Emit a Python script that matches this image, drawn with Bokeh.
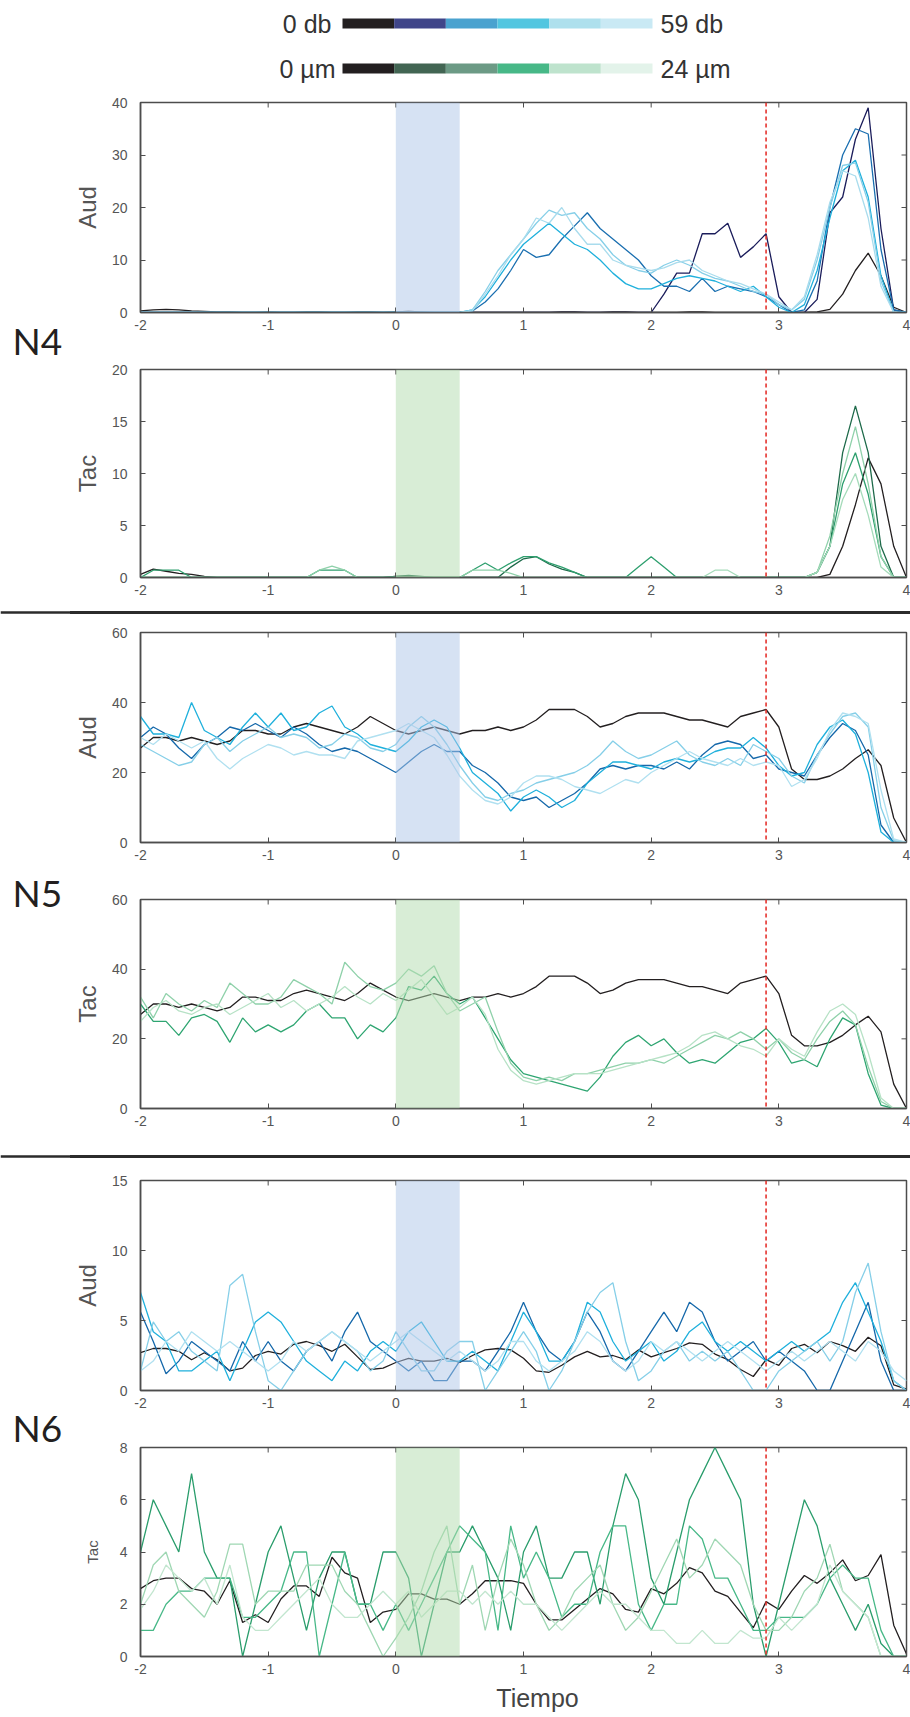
import numpy as np
from bokeh.plotting import figure
from bokeh.layouts import column, row
from bokeh.models import Range1d, FixedTicker, Span, BoxAnnotation, Div
from bokeh.embed import file_html
from bokeh.resources import INLINE
from bokeh.core.properties import value

TIME = np.round(np.linspace(-2.0, 4.0, 61), 2)
X_TICKS = [-2, -1, 0, 1, 2, 3, 4]
STIM_START, STIM_END = 0.0, 0.5
EVENT_T = 2.9

LEG_DB = ["0 db", "59 db"]
LEG_UM = ["0 \u00b5m", "24 \u00b5m"]
GROUPS = ["N4", "N5", "N6"]
X_LABEL = "Tiempo"

# ---- N4 auditory (0-40)
n4_aud_black = [0.3, 0.5, 0.6, 0.5, 0.3, 0.2, 0.1, 0.1, 0.0, 0.0,
                0.1, 0.0, 0.0, 0.1, 0.1, 0.0, 0.0, 0.1, 0.1, 0.0,
                0.1, 0.2, 0.1, 0.0, 0.0, 0.0, 0.0, 0.0, 0.0, 0.0,
                0.0, 0.0, 0.0, 0.1, 0.1, 0.0, 0.0, 0.1, 0.1, 0.0,
                0.0, 0.0, 0.0, 0.1, 0.1, 0.0, 0.0, 0.0, 0.0, 0.0,
                0.0, 0.0, 0.0, 0.1, 0.6, 3.5, 8.0, 11.3, 7.0, 1.0,
                0.0]
n4_aud_navy = [0.0] * 40 + [
                0.0, 3.5, 7.5, 7.5, 15.0, 15.0, 17.0, 10.5, 12.5, 15.0,
                3.0, 0.0, 0.0, 2.5, 19.0, 22.0, 33.0, 39.0, 16.0, 0.5,
                0.0]
n4_aud_blue = [0.0] * 20 + [
                0.0, 0.0, 0.0, 0.0, 0.0, 0.0, 0.3, 2.0, 4.5, 8.0,
                12.0, 10.5, 11.0, 14.0, 16.5, 19.0, 16.0, 14.0, 12.0, 10.0,
                7.0, 5.0, 5.0, 4.0, 6.5, 4.0, 5.0, 4.5, 4.0, 3.0,
                1.5, 0.0, 0.5, 6.0, 20.0, 30.0, 35.0, 34.0, 12.0, 0.5,
                0.0]
n4_aud_cyan = [0.0] * 20 + [
                0.0, 0.0, 0.0, 0.0, 0.0, 0.0, 0.5, 3.0, 6.5, 10.0,
                13.0, 15.0, 17.0, 15.0, 13.0, 12.0, 10.0, 7.5, 5.5, 4.5,
                4.5, 5.5, 6.5, 7.0, 6.5, 6.0, 5.0, 4.0, 5.0, 3.0,
                1.0, 0.0, 1.5, 8.0, 18.0, 27.0, 29.0, 22.0, 7.0, 0.0,
                0.0]
n4_aud_light = [0.0] * 20 + [
                0.0, 0.0, 0.0, 0.0, 0.0, 0.0, 0.5, 4.0, 8.0, 11.0,
                14.0, 17.0, 19.5, 18.5, 19.0, 16.0, 14.0, 11.0, 9.0, 8.0,
                7.5, 9.0, 10.0, 9.0, 7.5, 6.5, 6.0, 5.0, 4.0, 3.5,
                1.5, 0.5, 2.5, 10.0, 20.0, 28.0, 28.5, 21.0, 6.0, 0.0,
                0.0]
n4_aud_lighter = [0.0] * 20 + [
                0.0, 0.0, 0.0, 0.0, 0.0, 0.0, 0.3, 3.5, 7.0, 11.0,
                14.0, 18.0, 17.0, 20.0, 16.0, 13.0, 13.0, 10.0, 9.0, 8.5,
                8.0, 8.5, 9.5, 10.0, 8.0, 7.0, 6.0, 5.5, 4.5, 3.5,
                2.0, 0.5, 3.0, 11.0, 21.0, 27.0, 26.0, 18.0, 5.0, 0.0,
                0.0]

# ---- N4 tactile (0-20)
n4_tac_black = [0.3, 0.8, 0.6, 0.4, 0.3, 0.1, 0.0, 0.0, 0.0, 0.0,
                0.0, 0.0, 0.0, 0.0, 0.0, 0.0, 0.0, 0.0, 0.0, 0.0,
                0.1, 0.1, 0.0, 0.0, 0.0, 0.0, 0.0, 0.0, 0.0, 0.0,
                0.0, 0.0, 0.0, 0.0, 0.0, 0.0, 0.0, 0.0, 0.0, 0.0,
                0.0, 0.0, 0.0, 0.0, 0.0, 0.0, 0.0, 0.0, 0.0, 0.0,
                0.0, 0.0, 0.0, 0.0, 0.3, 3.0, 7.0, 11.5, 9.0, 3.0,
                0.0]
n4_tac_dark = [0.0] * 20 + [
                0.1, 0.2, 0.1, 0.0, 0.0, 0.0, 0.0, 0.0, 0.0, 1.0,
                1.8, 2.0, 1.3, 0.8, 0.5, 0.0, 0.0, 0.0, 0.0, 0.0,
                0.0, 0.0, 0.0, 0.0, 0.0, 0.0, 0.0, 0.0, 0.0, 0.0,
                0.0, 0.0, 0.0, 0.5, 3.0, 12.0, 16.5, 12.0, 3.0, 0.0,
                0.0]
n4_tac_mid = [0.0, 0.7, 0.7, 0.7, 0.0, 0.0, 0.0, 0.0, 0.0, 0.0,
              0.0, 0.0, 0.0, 0.0, 0.7, 0.7, 0.7, 0.0, 0.0, 0.0,
              0.0, 0.0, 0.0, 0.0, 0.0, 0.0, 0.7, 1.4, 0.7, 1.4,
              2.0, 2.0, 1.4, 1.0, 0.5, 0.0, 0.0, 0.0, 0.0, 1.0,
              2.0, 1.0, 0.0, 0.0, 0.0, 0.0, 0.0, 0.0, 0.0, 0.0,
              0.0, 0.0, 0.0, 0.5, 3.0, 9.0, 12.0, 8.0, 2.0, 0.0,
              0.0]
n4_tac_light = [0.0, 0.0, 0.0, 0.0, 0.0, 0.0, 0.0, 0.0, 0.0, 0.0,
                0.0, 0.0, 0.0, 0.0, 0.7, 1.1, 0.7, 0.0, 0.0, 0.0,
                0.0, 0.0, 0.0, 0.0, 0.0, 0.0, 0.7, 0.7, 0.7, 0.4,
                0.0, 0.0, 0.0, 0.0, 0.0, 0.0, 0.0, 0.0, 0.0, 0.0,
                0.0, 0.0, 0.0, 0.0, 0.0, 0.0, 0.0, 0.0, 0.0, 0.0,
                0.0, 0.0, 0.0, 0.5, 4.0, 10.0, 14.5, 9.0, 2.0, 0.0,
                0.0]
n4_tac_lighter = [0.0] * 40 + [
                0.0, 0.0, 0.0, 0.0, 0.0, 0.7, 0.7, 0.0, 0.0, 0.0,
                0.0, 0.0, 0.0, 0.5, 3.0, 7.5, 10.0, 6.0, 1.0, 0.0,
                0.0]

# ---- N5 (0-60)
n5_black = [27, 30, 30, 29, 30, 29, 28, 29, 32, 32,
            31, 31, 33, 34, 33, 32, 31, 33, 36, 34,
            32, 31, 32, 33, 32, 31, 32, 32, 33, 32,
            33, 35, 38, 38, 38, 36, 33, 34, 36, 37,
            37, 37, 36, 35, 35, 34, 33, 36, 37, 38,
            33, 21, 18, 18, 19, 21, 24, 26.5, 22, 7,
            0]
n5_aud_blue = [30, 33, 31, 27, 24, 28, 30, 33, 32, 34,
               32, 30, 33, 31, 28, 26, 27, 26, 24, 22,
               20, 23, 26, 28, 26, 26, 22, 20, 17, 13,
               12, 13, 10, 12, 14, 17, 21, 22, 21, 22,
               22, 21, 23, 21, 25, 28, 29, 28, 24, 25,
               21, 20, 19, 25, 30, 34, 32, 25, 5, 0,
               0]
n5_aud_cyan = [36, 31, 31, 30, 40, 32, 30, 28, 33, 37,
               33, 37, 32, 33, 37, 39, 33, 31, 28, 27,
               26, 29, 33, 35, 33, 27, 20, 17, 14, 9,
               13, 15, 13, 10, 12, 17, 20, 23, 23, 22,
               21, 23, 24, 23, 24, 26, 27, 27, 30, 27,
               22, 19, 20, 28, 33, 35, 31, 20, 3, 0,
               0]
n5_aud_light = [28, 26, 24, 22, 23, 28, 30, 26, 29, 31,
                33, 30, 31, 30, 27, 28, 31, 30, 27, 26,
                28, 33, 36, 33, 28, 22, 17, 13, 12, 14,
                15, 17, 18, 19, 20, 22, 25, 29, 26, 24,
                25, 27, 29, 25, 23, 22, 24, 22, 28, 26,
                24, 19, 17, 25, 31, 36, 37, 33, 10, 0.5,
                0]
n5_aud_lighter = [30, 28, 31, 29, 27, 29, 24, 21, 24, 26,
                  28, 27, 25, 26, 25, 25, 24, 29, 30, 31,
                  32, 34, 32, 30, 25, 19, 15, 12, 11, 13,
                  17, 19, 19, 18, 16, 15, 14, 16, 18, 17,
                  20, 22, 24, 26, 24, 23, 22, 24, 22, 23,
                  22, 16, 18, 24, 32, 37, 36, 34, 15, 1,
                  0]
n5_tac_mid = [30, 25, 25, 21, 26, 27, 25, 19, 26, 22,
              24, 22, 24, 28, 30, 26, 26, 20, 24, 22,
              26, 35, 34, 38, 33, 30, 32, 26, 20, 14,
              10, 9, 8, 7, 6, 5, 9, 15, 19, 21,
              18, 20, 16, 13, 14, 13, 16, 19, 20, 23,
              19, 13, 14, 12, 20, 26, 24, 10, 1, 0,
              0]
n5_tac_light = [32, 26, 33, 30, 28, 31, 29, 36, 33, 30,
                30, 32, 37, 35, 33, 30, 42, 38, 35, 34,
                36, 40, 38, 41, 33, 28, 30, 32, 22, 13,
                9, 8, 9, 8, 10, 10, 11, 12, 13, 13,
                14, 13, 15, 17, 19, 21, 20, 22, 20, 17,
                20, 16, 14, 20, 25, 28, 24, 12, 2, 0,
                0]
n5_tac_lighter = [25, 29, 31, 28, 27, 29, 30, 27, 29, 31,
                  33, 29, 31, 28, 30, 32, 35, 32, 30, 33,
                  31, 34, 37, 32, 27, 29, 32, 27, 17, 11,
                  8, 7, 8, 9, 10, 10, 10, 11, 12, 13,
                  14, 15, 16, 18, 21, 22, 20, 18, 17, 15,
                  20, 17, 15, 22, 28, 30, 27, 16, 3, 0,
                  0]

# ---- N6 auditory (0-15)
n6_aud_black = [2.7, 3.0, 3.0, 2.8, 2.2, 2.7, 2.2, 1.4, 1.6, 2.5,
                2.8, 2.6, 3.3, 3.5, 3.2, 2.8, 3.3, 2.4, 1.5, 1.6,
                2.0, 2.3, 2.1, 2.1, 2.3, 2.0, 2.5, 2.9, 3.0, 2.9,
                2.3, 1.4, 1.3, 1.8, 2.4, 2.8, 2.4, 2.5, 2.2, 2.9,
                2.4, 2.7, 3.0, 3.4, 3.3, 2.6, 2.2, 1.5, 1.0, 2.2,
                1.8, 3.0, 3.3, 2.7, 3.5, 3.2, 2.8, 3.8, 3.2, 0.4,
                0.1]
n6_aud_blue = [5.6, 3.5, 1.2, 2.1, 3.5, 2.8, 2.1, 1.4, 3.5, 2.1,
               3.5, 2.1, 1.4, 2.8, 3.5, 2.1, 4.2, 5.6, 3.5, 2.8,
               2.1, 1.4, 2.1, 0.7, 0.7, 2.1, 2.1, 1.4, 2.8, 4.2,
               6.3, 4.2, 2.8, 2.1, 3.5, 5.6, 4.2, 2.1, 1.4, 2.8,
               4.2, 5.6, 4.2, 6.3, 5.6, 3.5, 2.1, 2.8, 3.5, 2.1,
               2.8, 2.1, 1.4, 0.0, 0.0, 2.1, 4.2, 6.3, 2.1, 0.0,
               0.0]
n6_aud_cyan = [7.0, 4.2, 3.5, 1.4, 1.4, 2.1, 2.8, 0.7, 2.8, 4.9,
               5.6, 4.9, 3.5, 2.1, 1.4, 0.7, 2.1, 1.4, 2.8, 3.5,
               2.8, 4.2, 4.9, 3.5, 2.1, 2.1, 2.8, 2.1, 1.4, 3.5,
               5.6, 4.2, 2.1, 2.1, 3.5, 6.3, 5.6, 3.5, 2.1, 2.8,
               3.5, 2.1, 2.8, 4.2, 4.9, 3.5, 2.8, 3.5, 2.8, 2.1,
               2.8, 3.5, 2.8, 3.5, 4.2, 6.3, 7.7, 5.6, 3.5, 0.7,
               0.0]
n6_aud_light = [1.4, 4.9, 3.5, 4.2, 2.8, 2.1, 1.4, 7.5, 8.3, 4.2,
                0.7, 0.0, 1.4, 2.8, 3.5, 4.2, 3.5, 2.8, 1.4, 2.1,
                4.2, 2.8, 1.4, 1.4, 2.8, 3.5, 3.5, 0.0, 1.4, 2.8,
                4.2, 2.8, 0.0, 1.4, 3.5, 5.6, 7.0, 7.7, 3.5, 0.7,
                1.4, 2.8, 3.5, 2.1, 2.8, 2.1, 2.8, 1.4, 0.0, 0.0,
                1.4, 2.1, 2.8, 3.5, 2.1, 3.5, 7.0, 9.1, 4.2, 0.7,
                0.0]
n6_aud_lighter = [1.4, 2.1, 3.5, 2.8, 4.2, 3.5, 2.8, 3.5, 2.8, 2.1,
                  1.4, 2.1, 3.5, 2.8, 3.5, 4.2, 3.5, 2.8, 2.1, 2.8,
                  3.5, 4.2, 3.5, 2.8, 2.1, 2.8, 2.1, 1.4, 2.1, 3.5,
                  3.5, 2.1, 1.4, 2.1, 2.8, 4.2, 3.5, 2.1, 1.4, 2.1,
                  3.5, 2.8, 3.5, 2.8, 2.1, 2.8, 3.5, 2.8, 2.1, 1.4,
                  2.1, 2.8, 2.1, 2.8, 3.5, 2.8, 2.1, 3.5, 2.8, 1.4,
                  0.7]

# ---- N6 tactile (0-8)
n6_tac_black = [2.6, 2.9, 3.0, 3.0, 2.6, 2.5, 2.0, 2.9, 1.3, 1.6,
                1.3, 2.2, 2.7, 2.7, 2.3, 3.8, 3.2, 3.0, 1.3, 1.7,
                1.8, 2.4, 2.4, 2.2, 2.2, 2.0, 2.4, 2.9, 2.9, 2.9,
                2.8, 2.0, 1.4, 1.4, 1.8, 2.2, 2.6, 2.4, 1.8, 1.7,
                2.6, 2.4, 2.8, 3.4, 3.2, 2.5, 2.3, 1.7, 1.1, 2.1,
                1.8, 2.5, 3.1, 2.8, 3.2, 3.7, 2.9, 3.1, 3.9, 1.2,
                0.1]
n6_tac_a = [4, 6, 5, 4, 7, 4, 3, 3, 0, 2,
            4, 5, 3, 1, 3, 4, 4, 2, 2, 4,
            4, 3, 0, 2, 4, 4, 5, 4, 3, 1,
            4, 5, 3, 3, 4, 4, 2, 5, 7, 6,
            3, 2, 4, 6, 7, 8, 7, 6, 2, 0,
            2, 4, 6, 5, 3, 2, 1, 2, 0.5, 0,
            0]
n6_tac_b = [1, 1, 2, 2.5, 2.5, 3, 3, 3, 1.5, 1.5,
            2, 2.5, 4, 4, 0, 2, 4, 2, 2, 1,
            2, 1, 2, 3, 4, 5, 4.5, 4, 1, 5,
            3, 4, 3, 1.5, 2, 2, 4, 5, 5, 2,
            1, 2, 2, 5, 4.5, 3, 3, 2, 1, 1,
            1.5, 1.5, 1.5, 2, 3, 3.5, 3, 3, 1, 0,
            0]
n6_tac_c = [2, 3.5, 4, 2.5, 2, 1.5, 2.5, 4.3, 4.3, 2,
            2.5, 2.5, 2.5, 3.5, 3.5, 3.5, 2.5, 2, 1, 0,
            0.7, 1.5, 2.5, 4, 5, 2, 3.5, 1, 3, 4.5,
            3.5, 2, 1, 1.5, 2.5, 3, 3.5, 2, 1, 1.5,
            2.5, 3.5, 4.5, 3, 3.5, 4.5, 4, 3.5, 2, 1,
            1, 1.5, 2.5, 3, 4.3, 2.5, 2, 1.5, 0, 0,
            0]
n6_tac_d = [1.8, 2.5, 3.5, 3, 2.5, 3, 2, 3.5, 1.5, 1,
            1, 1.5, 2, 2.5, 3, 2, 1.5, 1.5, 2, 2.5,
            2, 2.5, 1.5, 2, 2.5, 2.5, 2, 2.5, 2, 2.5,
            2, 2, 1.5, 1, 1.5, 2, 2.5, 2, 2, 1.5,
            1, 1, 0.5, 0.5, 1, 0.5, 0.5, 1, 0.7, 0.7,
            1.5, 1, 1.5, 2, 3.5, 2.5, 2, 1.5, 0, 0,
            0]

# ---------------- styles / layout ----------------
DB_COLORS = ["#231f20", "#3f4589", "#4aa2cf", "#52c6e0", "#aee0ed", "#c9e9f4"]
UM_COLORS = ["#231f20", "#426553", "#6c9a85", "#47b887", "#bee3cd", "#e3f3ea"]
BLACK = "#231f20"
AXC = "#4d4d4d"
TXT = "#555555"
FONT = "Liberation Sans"
SIDE_W = 70          # left strip with the group names
COL_W = 840          # column with the panels
LEFT, RIGHT = 70, 4  # panel borders inside the column -> frame 140..906 px
FRAME_X0, FRAME_X1 = 140, 906
TOTAL_H = 1714
TICK_PX = 5


def make_panel(height, btop, bbot, ymax, yticks, ylabel, series, colors, band,
               ylabel_size="24px", ylabel_standoff=8):
    p = figure(width=COL_W, height=height, x_range=Range1d(-2, 4), y_range=Range1d(0, ymax),
               output_backend="svg", toolbar_location=None,
               min_border_left=LEFT, min_border_right=RIGHT,
               min_border_top=btop, min_border_bottom=bbot,
               background_fill_color="white", border_fill_color="white")
    p.grid.visible = False
    p.outline_line_color = AXC
    p.outline_line_width = 1.5
    for vals, col in zip(series, colors):
        p.line(TIME, vals, line_color=col, line_width=1.3)
    p.add_layout(BoxAnnotation(left=STIM_START, right=STIM_END, fill_color=band,
                               fill_alpha=0.5, line_color=None))
    p.add_layout(Span(location=EVENT_T, dimension="height", line_color="#e5322d",
                      line_dash="4 3", line_width=1.6))
    # mirrored inner ticks on the top and right sides of the box
    frame_h = height - btop - bbot
    frame_w = COL_W - LEFT - RIGHT
    dy = TICK_PX * ymax / frame_h
    dx = TICK_PX * 6.0 / frame_w
    p.segment(x0=X_TICKS, y0=[ymax] * len(X_TICKS), x1=X_TICKS, y1=[ymax - dy] * len(X_TICKS),
              line_color=AXC, line_width=1)
    p.segment(x0=[4] * len(yticks), y0=yticks, x1=[4 - dx] * len(yticks), y1=yticks,
              line_color=AXC, line_width=1)
    xa = p.xaxis[0]
    ya = p.yaxis[0]
    xa.ticker = FixedTicker(ticks=X_TICKS)
    xa.major_label_overrides = {t: str(t) for t in X_TICKS}
    ya.ticker = FixedTicker(ticks=yticks)
    for ax in (xa, ya):
        ax.major_tick_in = TICK_PX
        ax.major_tick_out = 0
        ax.minor_tick_line_color = None
        ax.axis_line_color = AXC
        ax.axis_line_width = 1.5
        ax.major_tick_line_color = AXC
        ax.major_label_text_font = FONT
        ax.major_label_text_font_size = "14px"
        ax.major_label_text_color = TXT
    xa.major_label_standoff = 7
    ya.major_label_standoff = 13
    ya.axis_label = ylabel
    ya.axis_label_text_font = FONT
    ya.axis_label_text_font_size = ylabel_size
    ya.axis_label_text_font_style = "normal"
    ya.axis_label_text_color = TXT
    ya.axis_label_standoff = ylabel_standoff
    return p


def blank(height, x_range, y_range, **kw):
    f = figure(height=height, x_range=x_range, y_range=y_range,
               output_backend="svg", toolbar_location=None,
               x_axis_location=None, y_axis_location=None, outline_line_color=None, **kw)
    f.grid.visible = False
    return f


def separator(height, top_px):
    html = ('<div style="position:relative;width:%dpx;height:%dpx;">'
            '<div style="position:absolute;left:0;width:%dpx;top:%dpx;height:2.5px;'
            'background:#2b2b2b;"></div></div>' % (COL_W, height, COL_W, top_px))
    return Div(text=html, width=COL_W, height=height, margin=0)


AUD_BAND = "#adc5e7"
TAC_BAND = "#b1dbad"

# legend (frame aligned with the panels: x in page pixels 140..906, y 0..88 from bottom)
leg = blank(88, Range1d(FRAME_X0, FRAME_X1), Range1d(0, 88), width=COL_W,
            min_border_left=LEFT, min_border_right=RIGHT, min_border_top=0, min_border_bottom=0)
seg = 310 / 6
lefts = [342 + i * seg for i in range(6)]
rights = [l + seg for l in lefts]
leg.quad(left=lefts, right=rights, bottom=60, top=70, fill_color=DB_COLORS, line_color=None)
leg.quad(left=lefts, right=rights, bottom=15, top=25, fill_color=UM_COLORS, line_color=None)
for txt, x, y, al in ((LEG_DB[0], 331, 65, "right"), (LEG_DB[1], 660, 65, "left"),
                      (LEG_UM[0], 335, 20, "right"), (LEG_UM[1], 660, 20, "left")):
    leg.text(x=[x], y=[y], text=[txt], text_align=al, text_baseline="middle",
             text_font=value(FONT), text_font_size="25px", text_color="#333333")

p4a = make_panel(257, 14, 33, 40, [0, 10, 20, 30, 40], "Aud",
                 [n4_aud_black, n4_aud_navy, n4_aud_blue, n4_aud_cyan, n4_aud_light, n4_aud_lighter],
                 [BLACK, "#1b1d5b", "#1a6fb0", "#1fb0dc", "#86cfe8", "#a9dced"], AUD_BAND)
p4t = make_panel(260, 24, 28, 20, [0, 5, 10, 15, 20], "Tac",
                 [n4_tac_black, n4_tac_dark, n4_tac_mid, n4_tac_light, n4_tac_lighter],
                 [BLACK, "#1e6a4a", "#2e9f6e", "#8fd1aa", "#a5dbba"], TAC_BAND)
sep1 = separator(15, 6)
p5a = make_panel(248, 12, 26, 60, [0, 20, 40, 60], "Aud",
                 [n5_black, n5_aud_blue, n5_aud_cyan, n5_aud_light, n5_aud_lighter],
                 [BLACK, "#1568aa", "#1fb0dc", "#86cfe8", "#b0e0f0"], AUD_BAND)
p5t = make_panel(274, 31, 34, 60, [0, 20, 40, 60], "Tac",
                 [n5_black, n5_tac_mid, n5_tac_light, n5_tac_lighter],
                 [BLACK, "#2ea571", "#8fd1aa", "#b7e2c6"], TAC_BAND)
sep2 = separator(28, 13)
p6a = make_panel(260, 10, 40, 15, [0, 5, 10, 15], "Aud",
                 [n6_aud_black, n6_aud_blue, n6_aud_cyan, n6_aud_light, n6_aud_lighter],
                 [BLACK, "#1568aa", "#1fb0dc", "#86cfe8", "#b0e0f0"], AUD_BAND)
p6t = make_panel(252, 17, 26, 8, [0, 2, 4, 6, 8], "Tac",
                 [n6_tac_black, n6_tac_a, n6_tac_b, n6_tac_c, n6_tac_d],
                 [BLACK, "#2a9d6c", "#47b887", "#9fd7b3", "#c2e6cf"], TAC_BAND,
                 ylabel_size="15px", ylabel_standoff=16)

# footer with the x-axis title
foot = blank(32, Range1d(FRAME_X0, FRAME_X1), Range1d(0, 32), width=COL_W,
             min_border_left=LEFT, min_border_right=RIGHT, min_border_top=0, min_border_bottom=0)
foot.text(x=[537], y=[17], text=[X_LABEL], text_align="center", text_baseline="middle",
          text_font=value(FONT), text_font_size="25px", text_color="#444444")

# left strip: group names and the left part of the separators (page pixels, y from bottom)
side = blank(TOTAL_H, Range1d(0, SIDE_W), Range1d(0, TOTAL_H), width=SIDE_W, min_border=0)
side.text(x=[12, 12, 12], y=[TOTAL_H - 340, TOTAL_H - 892, TOTAL_H - 1427], text=GROUPS,
          text_align="left", text_baseline="alphabetic", text_font=value("Lato"),
          text_font_size="37px", text_color=BLACK)
for ypx in (612, 1156):
    side.add_layout(Span(location=TOTAL_H - ypx, dimension="width",
                         line_color="#2b2b2b", line_width=2.5))

right_col = column(leg, p4a, p4t, sep1, p5a, p5t, sep2, p6a, p6t, foot)
layout = row(side, right_col)
open("out.html", "w").write(file_html(layout, INLINE))
